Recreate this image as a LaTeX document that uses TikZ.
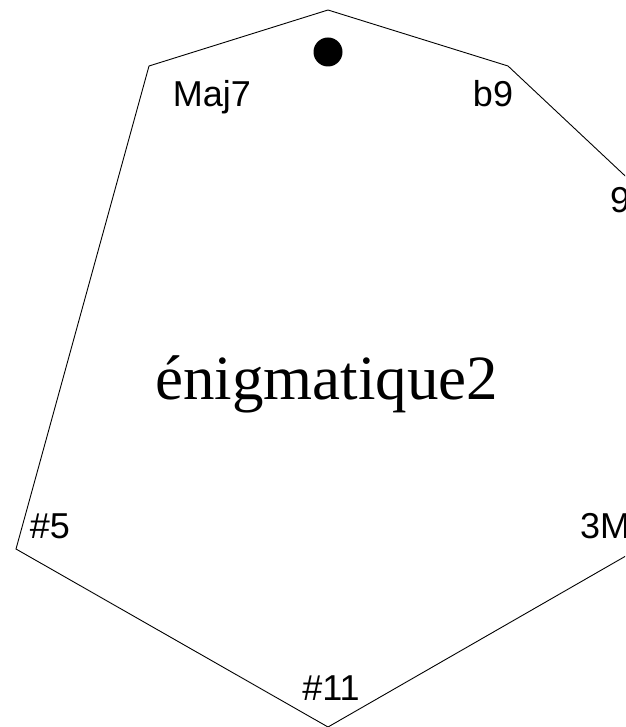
\documentclass[tikz,border=0pt]{standalone}
\usepackage{fontspec}
\setmainfont{Liberation Serif}
\newfontfamily\labelfont{Liberation Sans}
\begin{document}
\begin{tikzpicture}[x=1pt,y=-1pt,
  lbl/.style={font=\labelfont\fontsize{36}{36}\selectfont, inner sep=0pt, anchor=base},
  ttl/.style={font=\fontsize{63}{63}\selectfont, inner sep=0pt, anchor=base},
  edge/.style={line width=0.9pt, black}]
\useasboundingbox (0,0) rectangle (625,727);
\clip (0,0) rectangle (625,727);
\coordinate (vT) at (328,10);
\coordinate (vB9) at (508,66);
\coordinate (vN) at (638,188);
\coordinate (vM) at (638,549);
\coordinate (vE) at (328,727);
\coordinate (vF) at (16,549);
\coordinate (vJ) at (149,66);
\draw[edge] (vT) -- (vB9) -- (vN) -- (vM) -- (vE) -- (vF) -- (vJ) -- cycle;
\fill (328,52) circle (14.5);
\node[lbl] (maj7) at (212,107) {Maj7};
\node[lbl] (b9) at (493,107) {b9};
\node[lbl, anchor=base west] (n9) at (610,213) {9};
\node[lbl] (s5) at (50,538) {\#5};
\node[lbl, anchor=base west] (m3) at (580,538) {3M};
\node[lbl] (s11) at (331,700) {\#11};
\node[ttl] (title) at (326.5,399) {énigmatique2};
\end{tikzpicture}
\end{document}
